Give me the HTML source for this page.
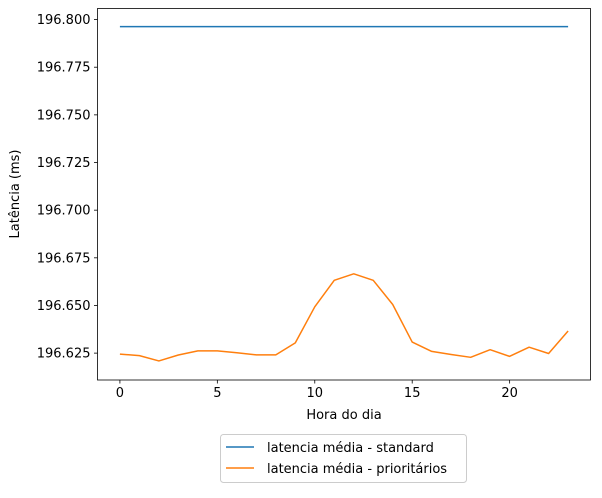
<!DOCTYPE html>
<html><head><meta charset="utf-8"><style>
body{margin:0;background:#fff;font-family:"Liberation Sans","DejaVu Sans",sans-serif}
svg text{font-family:"DejaVu Sans","Liberation Sans",sans-serif;font-size:13px;fill:#000}
</style></head><body>
<svg id="chart" width="602" height="493" viewBox="0 0 602 493" xmlns="http://www.w3.org/2000/svg">
<rect x="97.5" y="8.5" width="493" height="371.5" fill="none" stroke="#000" stroke-width="0.8"/>
<text x="344" y="419" text-anchor="middle">Hora do dia</text>
<text transform="translate(19,194) rotate(-90)" text-anchor="middle">Latência (ms)</text>
<g>
<rect x="220.5" y="434.5" width="246" height="48" rx="3" fill="#fff" stroke="#ccc"/>
<line x1="226" y1="447" x2="254" y2="447" stroke="#1f77b4" stroke-width="1.5"/>
<text x="267" y="452">latencia média - standard</text>
<line x1="226" y1="468" x2="254" y2="468" stroke="#ff7f0e" stroke-width="1.5"/>
<text x="267" y="473">latencia média - prioritários</text>
</g>
</svg>
<script>
const hours=[0,1,2,3,4,5,6,7,8,9,10,11,12,13,14,15,16,17,18,19,20,21,22,23];
const standard=[196.7963,196.7963,196.7963,196.7963,196.7963,196.7963,196.7963,196.7963,196.7963,196.7963,196.7963,196.7963,196.7963,196.7963,196.7963,196.7963,196.7963,196.7963,196.7963,196.7963,196.7963,196.7963,196.7963,196.7963];
const prioritarios=[196.6245,196.6237,196.6209,196.6240,196.6262,196.6262,196.6252,196.6241,196.6241,196.6304,196.6493,196.6632,196.6666,196.6632,196.6505,196.6308,196.6259,196.6243,196.6228,196.6268,196.6233,196.6281,196.6248,196.6366];
const xTicks=[0,5,10,15,20];
const yTicks=[196.625,196.650,196.675,196.700,196.725,196.750,196.775,196.800];
const yTickLabels=["196.625","196.650","196.675","196.700","196.725","196.750","196.775","196.800"];
const svg=document.getElementById('chart');
const NS='http://www.w3.org/2000/svg';
const L=97.5,R=590.5,T=8.5,B=380;
const x0=-1.15,x1=24.15,y0=196.6109,y1=196.8058;
const X=v=>L+(v-x0)/(x1-x0)*(R-L);
const Y=v=>B-(v-y0)/(y1-y0)*(B-T);
function mk(t,a){const e=document.createElementNS(NS,t);for(const k in a)e.setAttribute(k,a[k]);svg.appendChild(e);return e;}
xTicks.forEach(v=>{
 const l=mk('line',{x1:X(v),x2:X(v),y1:B,y2:B+3.5,stroke:'#000','stroke-width':0.8});
 
 
 const t=mk('text',{x:X(v),y:B+17,'text-anchor':'middle'});t.textContent=String(v);
 
 
});
yTicks.forEach((v,i)=>{
 const l=mk('line',{x1:L-3.5,x2:L,y1:Y(v),y2:Y(v),stroke:'#000','stroke-width':0.8});
 
 
 const t=mk('text',{x:L-7,y:Y(v)+4.5,'text-anchor':'end'});t.textContent=yTickLabels[i];
 
 
});
function line(vals,color,name){
 const p=mk('polyline',{points:vals.map((v,i)=>X(hours[i])+','+Y(v)).join(' '),fill:'none',stroke:color,'stroke-width':1.5,'stroke-linejoin':'round'});
 
 
}
line(standard,'#1f77b4','line-standard');
line(prioritarios,'#ff7f0e','line-prioritarios');
</script>
</body></html>
